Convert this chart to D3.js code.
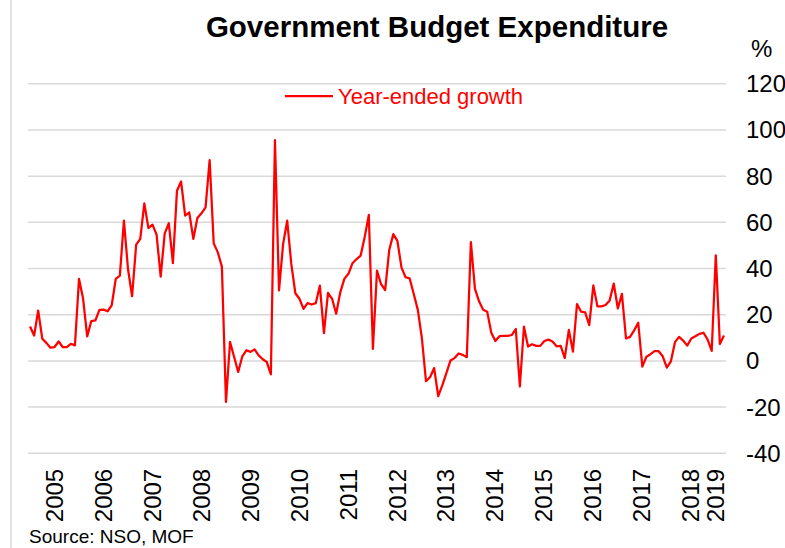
<!DOCTYPE html>
<html>
<head>
<meta charset="utf-8">
<script src="https://cdn.jsdelivr.net/npm/d3@7"></script>
<style>
  body { margin: 0; background: #fff; }
  svg { display: block; font-family: "Liberation Sans", Arial, sans-serif; }
</style>
</head>
<body>
<div id="chart"></div>
<script>
// monthly year-ended growth, Jan 2005 .. Mar 2019 (%)
const growth = [
  14.7, 10.8, 21.6, 9.4, 7.6, 5.5, 5.8, 8.2, 5.8, 5.8, 7.2, 6.5,
  35.3, 26.7, 10.4, 17, 17.3, 21.9, 22, 21.3, 23.8, 35.3, 36.7, 60.5,
  39.6, 27.8, 50.1, 52.6, 68, 57.3, 58.8, 54.5, 36.3, 55, 59.4, 42.1,
  73.5, 77.5, 62.7, 64.1, 52.6, 61.7, 63.7, 66.3, 86.7, 50.7, 46.8, 40.6,
  -18, 8, 1.5, -5, 1.8, 4.4, 3.7, 4.8, 2.2, 0.5, -0.7, -6,
  95.4, 30.3, 50.4, 60.5, 41.8, 29.1, 26.7, 22.3, 24.8, 24.2, 24.8, 32.4,
  11.8, 29.3, 26.7, 20.2, 29.5, 35.3, 37.5, 42.1, 43.9, 45.4, 53.6, 63,
  5, 38.9, 33, 30.5, 47.8, 54.7, 51.8, 40.2, 36, 35.5, 28.8, 21.9,
  9.6, -9, -7.3, -3.3, -15.5, -10.8, -5.5, 0, 1, 3, 2.4, 1.4,
  51.2, 31, 25.6, 21.9, 21.1, 12, 8.4, 10.5, 10.6, 10.6, 11, 13.6,
  -11.3, 14.6, 6, 7, 6.3, 6.3, 8.4, 9, 8.2, 6.1, 6.3, 1,
  13.2, 3.8, 24.4, 21.1, 20.8, 15.3, 32.5, 23.4, 23.4, 24, 26, 33.3,
  22.5, 28.8, 9.5, 10.2, 13, 16.3, -2.7, 1.6, 2.7, 4, 4, 1.8,
  -3.1, -0.4, 7.9, 10.2, 8.6, 6.4, 9.5, 10.5, 11.5, 12, 9, 4.1,
  45.5, 7.1, 10.8
];

const yearLabels = ["2005", "2006", "2007", "2008", "2009", "2010", "2011", "2012",
                    "2013", "2014", "2015", "2016", "2017", "2018", "2019"];
// category position of each year label
const yearLabelPos = [6, 18, 30, 42, 54, 66, 78, 90, 102, 114, 126, 138, 150, 162, 168];
const yTicks = [-40, -20, 0, 20, 40, 60, 80, 100, 120];

const W = 785, H = 548;
const plotL = 28, plotR = 726, plotT = 83.3, plotB = 452.8;

const svg = d3.select("#chart")
    .append("svg")
    .attr("width", W)
    .attr("height", H);

const x = d3.scaleLinear().domain([0, growth.length]).range([plotL, plotR]);
const y = d3.scaleLinear().domain([-40, 120]).range([plotB, plotT]);

// frame edge on the left
svg.append("line")
    .attr("x1", 11).attr("x2", 11)
    .attr("y1", 0).attr("y2", H)
    .attr("stroke", "#d9d9d9")
    .attr("stroke-width", 1.5);

// right axis with gridlines
const yAxis = svg.append("g")
    .attr("transform", "translate(" + plotR + ",0)")
    .call(d3.axisRight(y)
        .tickValues(yTicks)
        .tickFormat(d => String(d))   // plain hyphen, like the original
        .tickSize(-(plotR - plotL))
        .tickPadding(20));

yAxis.select(".domain").remove();
yAxis.selectAll("line")
    .attr("stroke", "#d9d9d9")
    .attr("stroke-width", 1.5);
yAxis.selectAll("text")
    .attr("fill", "#000")
    .attr("font-size", 24)
    .attr("font-family", "Liberation Sans, Arial, sans-serif")
    .attr("dy", "0.35em");

// year labels, rotated
svg.append("g")
    .selectAll("text")
    .data(yearLabels)
    .enter()
    .append("text")
    .attr("transform", (d, i) => "translate(" + (x(yearLabelPos[i]) + 1.5) + "," + (plotB + 16) + ") rotate(-90)")
    .attr("text-anchor", "end")
    .attr("dy", "0.36em")
    .attr("font-size", 24)
    .attr("fill", "#000")
    .text(d => d);

// the series
const line = d3.line()
    .x((d, i) => x(i + 0.5))
    .y(d => y(d));

svg.append("path")
    .datum(growth)
    .attr("d", line)
    .attr("fill", "none")
    .attr("stroke", "#ff0000")
    .attr("stroke-width", 2.25)
    .attr("stroke-linejoin", "round");

// title
svg.append("text")
    .attr("x", 437)
    .attr("y", 37)
    .attr("text-anchor", "middle")
    .attr("font-size", 29.5)
    .attr("font-weight", "bold")
    .text("Government Budget Expenditure");

// legend
svg.append("line")
    .attr("x1", 285).attr("x2", 333)
    .attr("y1", 96).attr("y2", 96)
    .attr("stroke", "#ff0000")
    .attr("stroke-width", 2.25);

svg.append("text")
    .attr("x", 338)
    .attr("y", 104)
    .attr("font-size", 22)
    .attr("fill", "#ff0000")
    .text("Year-ended growth");

// unit
svg.append("text")
    .attr("x", 751)
    .attr("y", 57)
    .attr("font-size", 24)
    .text("%");

// source
svg.append("text")
    .attr("x", 29)
    .attr("y", 543)
    .attr("font-size", 19)
    .text("Source: NSO, MOF");
</script>
</body>
</html>
